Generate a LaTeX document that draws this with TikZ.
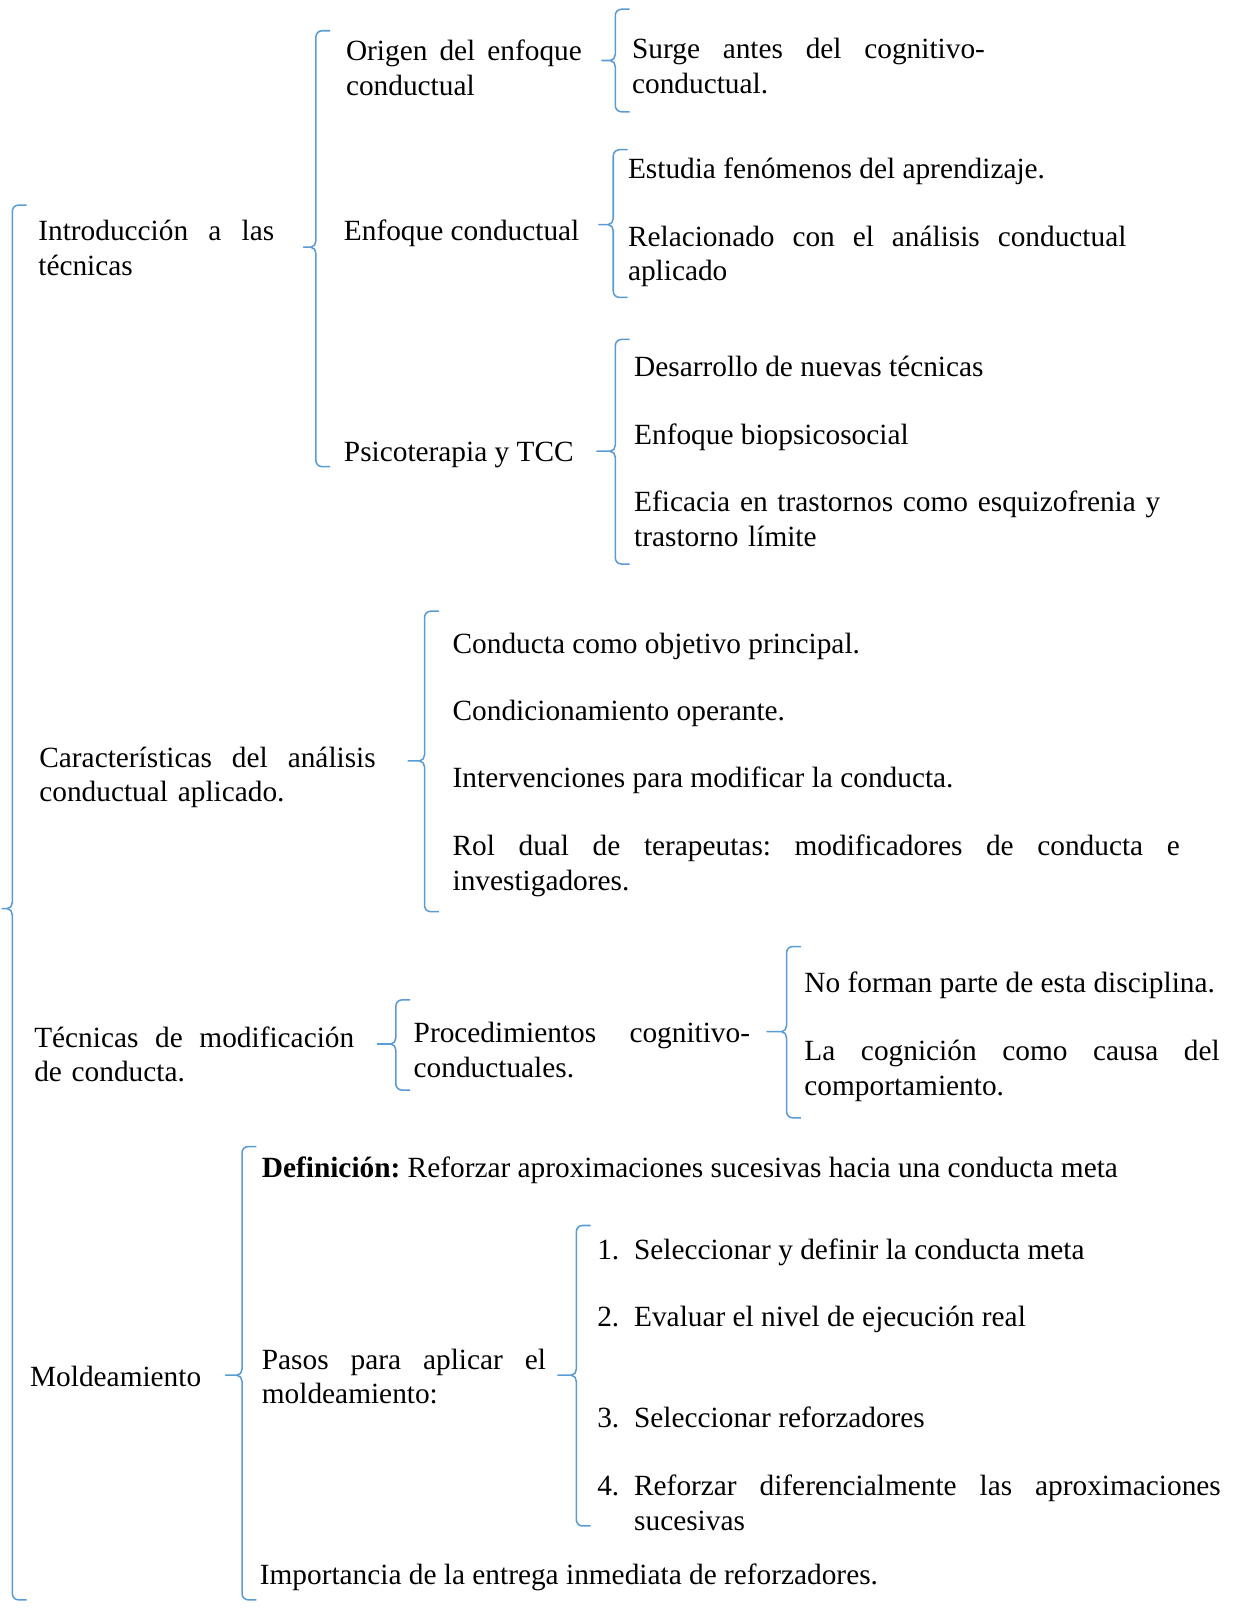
\documentclass[tikz,border=0pt]{standalone}
\usepackage{fontspec}
\setmainfont{Liberation Serif}
\definecolor{brcol}{HTML}{5B9BD5}
\tikzset{
  txt/.style={inner sep=0pt, anchor=base west, font=\fontsize{14.3}{17}\selectfont\frenchspacing},
  ml/.style={txt, align=left, text width=#1},
  brc/.style={draw=brcol, line width=0.75pt, line join=round}
}
% a justified line of given width: words separated by \hfill
\newcommand\jline[2]{\hbox to #1{#2}}
% #1 x of vertical, #2 top, #3 middle, #4 bottom, #5 x of tip
\newcommand\mybrace[5]{%
  \draw[brc] (#1+14,#2) -- (#1+6,#2) to[out=180,in=90] (#1,#2+6)
     -- (#1,#3-6) to[out=-90,in=0] (#1-5,#3) -- (#5,#3) -- (#1-5,#3)
     to[out=0,in=90] (#1,#3+6) -- (#1,#4-6) to[out=-90,in=180] (#1+6,#4) -- (#1+14,#4);}
\begin{document}
\begin{tikzpicture}[x=0.5pt,y=-0.5pt]
\useasboundingbox (0,0) rectangle (1207,1568);
% braces
\mybrace{12}{200}{886}{1560}{2}
\mybrace{308}{30}{241}{455}{296}
\mybrace{600}{9}{59}{109}{587}
\mybrace{598}{146}{219}{290}{584}
\mybrace{600}{331}{440}{550}{582}
\mybrace{414}{596}{742}{889}{398}
\mybrace{386}{975}{1018}{1063}{368}
\mybrace{767}{923}{1006}{1090}{748}
\mybrace{236}{1118}{1341}{1560}{220}
\mybrace{562}{1195}{1341}{1488}{544}
% level 1
\node[ml=115pt] (intro) at (37,235) {\jline{115pt}{Introducción\hfill a\hfill las}\\técnicas};
\node[ml=164pt] (carac) at (38,748) {\jline{164pt}{Características\hfill del\hfill análisis}\\conductual aplicado.};
\node[ml=156pt] (tecn) at (33,1021) {\jline{156pt}{Técnicas\hfill de\hfill modificación}\\de conducta.};
\node[txt] (mold) at (29,1352) {Moldeamiento};
% intro branch
\node[ml=115pt] (origen) at (337,59) {\jline{115pt}{Origen\hfill del\hfill enfoque}\\conductual};
\node[txt] (enfoque) at (335,235) {Enfoque conductual};
\node[txt] (psico) at (335,450) {Psicoterapia y TCC};
\node[ml=172pt] (surge) at (616,57) {\jline{172pt}{Surge\hfill antes\hfill del\hfill cognitivo-}\\conductual.};
\node[txt] (estudia) at (612,174) {Estudia fenómenos del aprendizaje.};
\node[ml=243pt] (relac) at (612,240) {\jline{243pt}{Relacionado\hfill con\hfill el\hfill análisis\hfill conductual}\\aplicado};
\node[txt] (desarr) at (618,367) {Desarrollo de nuevas técnicas};
\node[txt] (biops) at (618,433) {Enfoque biopsicosocial};
\node[ml=257pt] (efic) at (618,499) {\jline{256.5pt}{Eficacia\hfill en\hfill trastornos\hfill como\hfill esquizofrenia\hfill y}\\trastorno límite};
% caracteristicas branch
\node[txt] (c1) at (441,637) {Conducta como objetivo principal.};
\node[txt] (c2) at (441,703) {Condicionamiento operante.};
\node[txt] (c3) at (441,768) {Intervenciones para modificar la conducta.};
\node[ml=355pt] (c4) at (441,834) {\jline{354.5pt}{Rol\hfill dual\hfill de\hfill terapeutas:\hfill modificadores\hfill de\hfill conducta\hfill e}\\investigadores.};
% tecnicas branch
\node[ml=164pt] (proc) at (403,1017) {\jline{164pt}{Procedimientos\hfill cognitivo-}\\conductuales.};
\node[txt] (noform) at (784,968) {No forman parte de esta disciplina.};
\node[ml=203pt] (cogn) at (784,1034) {\jline{202.5pt}{La\hfill cognición\hfill como\hfill causa\hfill del}\\comportamiento.};
% moldeamiento branch
\node[txt] (defin) at (255,1148) {\textbf{Definición:} Reforzar aproximaciones sucesivas hacia una conducta meta};
\node[ml=139pt] (pasos) at (255,1335) {\jline{138.5pt}{Pasos\hfill para\hfill aplicar\hfill el}\\moldeamiento:};
\node[txt] (p1) at (582,1228) {\makebox[18pt][l]{1.}Seleccionar y definir la conducta meta};
\node[txt] (p2) at (582,1293) {\makebox[18pt][l]{2.}Evaluar el nivel de ejecución real};
\node[txt] (p3) at (582,1392) {\makebox[18pt][l]{3.}Seleccionar reforzadores};
\node[ml=305pt] (p4) at (582,1458) {\makebox[18pt][l]{4.}\jline{286pt}{Reforzar\hfill diferencialmente\hfill las\hfill aproximaciones}\\\hspace*{18pt}sucesivas};
\node[txt] (impor) at (253,1545) {Importancia de la entrega inmediata de reforzadores.};
\end{tikzpicture}
\end{document}
